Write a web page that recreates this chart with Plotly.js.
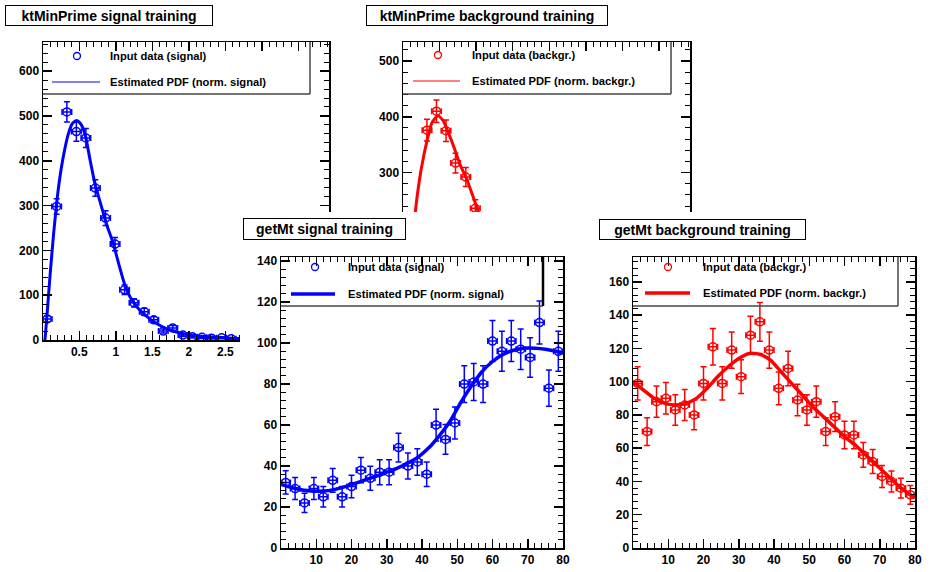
<!DOCTYPE html>
<html><head><meta charset="utf-8">
<script src="https://cdn.plot.ly/plotly-3.0.1.min.js"></script>
<style>
body{margin:0;background:#fff;width:933px;height:572px;overflow:hidden;position:relative}
.pn{position:absolute;background:#fff}
</style></head>
<body>
<div id="p1" class="pn"></div>
<div id="p2" class="pn"></div>
<div id="p3" class="pn"></div>
<div id="p4" class="pn"></div>
<script>
// ---------- data ----------
const ktSigX = [0.06,0.19,0.33,0.46,0.59,0.72,0.86,0.99,1.12,1.25,1.39,1.52,1.65,1.78,1.92,2.05,2.18,2.31,2.45,2.58];
const ktSigY = [47,298,509,465,451,339,272,214,112,83,63,45,20,27,11,7,6,4,5,3];
const ktSigCurveX = [0.03,0.06,0.1,0.15,0.2,0.25,0.3,0.35,0.4,0.46,0.52,0.58,0.65,0.72,0.8,0.88,0.96,1.04,1.12,1.2,1.3,1.4,1.5,1.6,1.7,1.8,1.9,2.0,2.2,2.4,2.6,2.8];
const ktSigCurveY = [0,60,145,240,320,380,425,460,482,490,482,458,400,345,300,255,218,170,125,95,72,56,43,33,25,19,15,12,8,6,4,3];

const ktBkgX = [0.33,0.46,0.59,0.72,0.86,0.99];
const ktBkgY = [376,410,375,317,292,236];
const ktBkgCurveX = [0.08,0.13,0.18,0.25,0.33,0.4,0.48,0.55,0.62,0.7,0.78,0.86,0.97,1.05,1.15];
const ktBkgCurveY = [100,170,240,305,357,390,402,393,372,345,315,292,253,222,185];

const mtX = [1.33,4,6.67,9.33,12,14.67,17.33,20,22.67,25.33,28,30.67,33.33,36,38.67,41.33,44,46.67,49.33,52,54.67,57.33,60,62.67,65.33,68,70.67,73.33,76,78.67];
const mtSigY = [32,29,22,29,25,33,25,30,38,34,37,37,49,40,42,36,60,53,61,80,81,80,101,96,101,97,93,110,78,96];
const mtBkgY = [99,70,88,90,83,86,80,99,121,99,119,103,128,136,119,96,108,89,83,88,70,79,68,68,56,52,43,40,36,32];
const mtCurveX = [0,3,6,9,12,15,18,21,24,27,30,33,36,39,42,45,48,51,54,57,60,63,66,69,72,75,78,80];
const mtSigCurveY = [31,29.5,28.3,27.8,27.8,28.5,29.8,31.5,33.3,35,37,39,41.5,44.5,49,55,62,71,79,86,91,94.5,96.5,97.5,97.5,97,96,95];
const mtBkgCurveY = [100,95,90,87,86,87,90,96,103,109,114,117,116.5,113,106,99,92,85,79,73,67,62,56,50,44,38,33,30];

// tick labels
const ktTickVals = [0.5,1,1.5,2,2.5,3,3.5];
const ktTickText = ['0.5','1','1.5','2','2.5','',''];
const ktBkgYTickVals = [0,100,200,300,400,500];
const ktBkgYTickText = ['','','','300','400','500'];
const mtTickVals = [10,20,30,40,50,60,70,80];

// ---------- helpers ----------
const FONT = 'Liberation Sans, Arial, Helvetica, sans-serif';
const BLUE = '#0000ff', RED = '#ff0000';
const MINOR = d => ({ticks:'inside', ticklen:5, tickwidth:1, tickcolor:'#000', dtick:d});

function axisBase(extra){
  return Object.assign({
    showline:true, linecolor:'#000', linewidth:1.5, mirror:'ticks',
    ticks:'inside', ticklen:9, tickwidth:1.5, tickcolor:'#000',
    showgrid:false, zeroline:false, fixedrange:true,
    tickfont:{family:FONT, size:12, weight:'bold', color:'#000'},
  }, extra);
}

function panel(id, g, o){
  const div = document.getElementById(id);
  div.style.left = g.left+'px'; div.style.top = g.top+'px';
  div.style.width = g.w+'px'; div.style.height = g.h+'px';
  const PX = px => (px - g.pl)/(g.pr - g.pl);
  const PY = py => (g.pb - py)/(g.pb - g.pt);
  const L = o.leg;
  const traces = [
    {x:o.x, y:o.y, type:'scatter', mode:'markers', cliponaxis:true,
     marker:{symbol:'circle-open', size:8, color:o.color, line:{width:1.5, color:o.color}},
     error_y:{type:'sqrt', color:o.color, thickness:1.5, width:3},
     error_x:{type:'constant', value:o.halfBin, color:o.color, thickness:1.5, width:3}},
    {x:o.cx, y:o.cy, type:'scatter', mode:'lines',
     line:{color:o.color, width:o.lw, shape:'spline', smoothing:0.6}}
  ];
  const shapes = [
    {type:'line', xref:'paper', yref:'paper', x0:0, x1:PX(L.right), y0:PY(L.bottom), y1:PY(L.bottom), line:{color:'#444', width:1.5}, layer:'above'},
    {type:'line', xref:'paper', yref:'paper', x0:PX(L.right), x1:PX(L.right), y0:PY(L.bottom), y1:1, line:{color:L.rcol||'#444', width:L.rw||1.5}, layer:'above'},
    {type:'circle', xref:'paper', yref:'paper', x0:PX(L.mx-3.5), x1:PX(L.mx+3.5), y0:PY(L.my+3.5), y1:PY(L.my-3.5), line:{color:o.color, width:1.3}, layer:'above'},
    {type:'line', xref:'paper', yref:'paper', x0:PX(L.l0), x1:PX(L.l1), y0:PY(L.ly), y1:PY(L.ly), line:{color:o.color, width:L.llw}, layer:'above'}
  ];
  const ann = [
    {xref:'paper', yref:'paper', x:PX(o.tb[0]), y:PY(o.tb[1]), xanchor:'left', yanchor:'top',
     text:o.title, showarrow:false, bordercolor:'#000', borderwidth:1, borderpad:0,
     width:o.tb[2]-2, height:o.tb[3]-2, bgcolor:'#fff', align:'center', valign:'middle',
     font:{family:FONT, size:14, weight:'bold', color:'#000'}},
    {xref:'paper', yref:'paper', x:PX(L.tx), y:PY(L.my), xanchor:'left', yanchor:'middle', showarrow:false,
     text:o.leg1, font:{family:FONT, size:11.2, weight:'bold', color:'#000'}},
    {xref:'paper', yref:'paper', x:PX(L.tx), y:PY(L.ly), xanchor:'left', yanchor:'middle', showarrow:false,
     text:o.leg2, font:{family:FONT, size:11.2, weight:'bold', color:'#000'}}
  ];
  const layout = {
    width:g.w, height:g.h,
    margin:{l:g.pl-g.left, r:g.left+g.w-g.pr, t:g.pt-g.top, b:g.top+g.h-g.pb, pad:0},
    paper_bgcolor:'#fff', plot_bgcolor:'#fff', showlegend:false,
    xaxis:axisBase(o.xa), yaxis:axisBase(o.ya),
    shapes:shapes, annotations:ann
  };
  Plotly.newPlot(div, traces, layout, {displayModeBar:false, staticPlot:true});
}

// ---------- panels ----------
panel('p1', {left:0, top:0, w:345, h:362, pl:43, pr:329, pt:42, pb:340}, {
  x:ktSigX, y:ktSigY, cx:ktSigCurveX, cy:ktSigCurveY, color:BLUE, lw:3, halfBin:0.066,
  title:'ktMinPrime signal training', tb:[5,5,208,21],
  leg1:'Input data (signal)', leg2:'Estimated PDF (norm. signal)',
  leg:{right:310, bottom:94, mx:77, my:56, tx:108, ly:82, l0:52, l1:100, llw:1},
  xa:{range:[0.003,3.92], tickmode:'array', tickvals:ktTickVals, ticktext:ktTickText, minor:MINOR(0.1)},
  ya:{range:[0,665], dtick:100, tick0:0, minor:MINOR(20)}
});
panel('p2', {left:345, top:0, w:360, h:362, pl:403, pr:690, pt:42, pb:340}, {
  x:ktBkgX, y:ktBkgY, cx:ktBkgCurveX, cy:ktBkgCurveY, color:RED, lw:3, halfBin:0.066,
  title:'ktMinPrime background training', tb:[366,5,242,21],
  leg1:'Input data (backgr.)', leg2:'Estimated PDF (norm. backgr.)',
  leg:{right:671, bottom:94, mx:438, my:55, tx:470, ly:81, l0:413, l1:460, llw:1},
  xa:{range:[0.003,3.92], tickmode:'array', tickvals:ktTickVals, showticklabels:false, minor:MINOR(0.1)},
  ya:{range:[0,534], tickmode:'array', tickvals:ktBkgYTickVals, ticktext:ktBkgYTickText, minor:MINOR(20)}
});
panel('p3', {left:240, top:212, w:345, h:360, pl:281, pr:563, pt:257, pb:548}, {
  x:mtX, y:mtSigY, cx:mtCurveX, cy:mtSigCurveY, color:BLUE, lw:3.5, halfBin:1.33,
  title:'getMt signal training', tb:[243,218,163,22],
  leg1:'Input data (signal)', leg2:'Estimated PDF (norm. signal)',
  leg:{right:543, bottom:306, mx:315, my:267, tx:346, ly:294, l0:291, l1:335, llw:3.5, rcol:'#000', rw:2.5},
  xa:{range:[0,80], tickmode:'array', tickvals:mtTickVals, minor:MINOR(2)},
  ya:{range:[0,142], dtick:20, tick0:0, minor:MINOR(4)}
});
panel('p4', {left:585, top:212, w:348, h:360, pl:633, pr:915, pt:257, pb:548}, {
  x:mtX, y:mtBkgY, cx:mtCurveX, cy:mtBkgCurveY, color:RED, lw:3.5, halfBin:1.33,
  title:'getMt background training', tb:[599,219,207,21],
  leg1:'Input data (backgr.)', leg2:'Estimated PDF (norm. backgr.)',
  leg:{right:898, bottom:306, mx:668, my:267, tx:701, ly:293, l0:645, l1:690, llw:3.5},
  xa:{range:[0,80], tickmode:'array', tickvals:mtTickVals, minor:MINOR(2)},
  ya:{range:[0,175], dtick:20, tick0:0, minor:MINOR(4)}
});
</script>
</body></html>
